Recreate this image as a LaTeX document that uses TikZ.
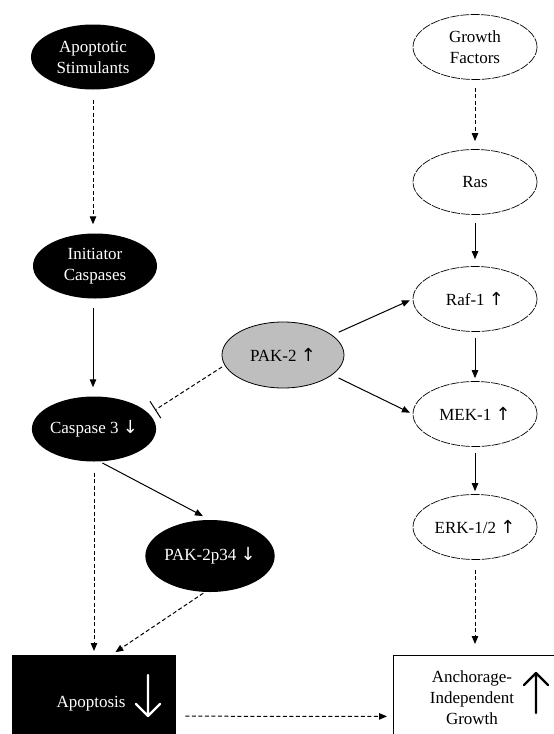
\documentclass[tikz,border=0pt]{standalone}
\usepackage{fontspec}
\setmainfont{Liberation Serif}
\newfontfamily\symf{DejaVu Sans}
\usetikzlibrary{arrows.meta,shapes.geometric,calc}
\definecolor{pakgray}{RGB}{190,190,190}
\newcommand{\upar}{{\symf\fontsize{18}{18}\selectfont ↑}}
\newcommand{\dnar}{{\symf\fontsize{18}{18}\selectfont ↓}}
\begin{document}
\begin{tikzpicture}[x=1pt,y=-1pt,
  every node/.style={font=\fontsize{17}{21}\selectfont, align=center, inner sep=0pt},
  blk/.style={ellipse, fill=black, text=white, minimum width=124pt, minimum height=65pt},
  wht/.style={ellipse, draw, line width=0.7pt, dash pattern=on 9pt off 1.2pt, minimum width=124pt, minimum height=65pt},
  gry/.style={ellipse, draw, fill=pakgray, line width=0.8pt, minimum width=122pt, minimum height=66pt},
  sol/.style={line width=1pt, -{Triangle[length=8pt,width=6.5pt]}},
  dsh/.style={sol, dash pattern=on 4pt off 2.5pt},
  bigarrow/.style={line width=2.2pt, line cap=round, line join=round},
]
\clip (0,0) rectangle (554,734);
% left column
\node[blk] (as) at (93,57) {Apoptotic\\Stimulants};
\node[blk] (ic) at (95,266) {Initiator\\Caspases};
\node[blk] (cas) at (94,429) {Caspase 3 \dnar};
\node[blk, minimum width=126pt, minimum height=72pt] (p34) at (210,556) {PAK-2p34 \dnar};
\node[gry] (pak) at (283,355) {PAK-2 \upar};
% right column
\node[wht] (gf) at (475,47) {Growth\\Factors};
\node[wht] (ras) at (475,182) {Ras};
\node[wht] (raf) at (475,299) {Raf-1 \upar};
\node[wht] (mek) at (475,414) {MEK-1 \upar};
\node[wht] (erk) at (475,527) {ERK-1/2 \upar};
% boxes
\node[rectangle, fill=black, minimum width=164pt, minimum height=100pt, anchor=north west] (apo) at (12,655) {};
\node[text=white] (apot) at (91,704) {Apoptosis};
\draw[bigarrow, white] (148,675) -- (148,716) (136,704) -- (148,716) -- (160,704);
\node[rectangle, draw, line width=0.8pt, minimum width=180pt, minimum height=100pt, anchor=north west] (anc) at (393,655) {};
\node (anct) at (472,698) {Anchorage-\\Independent\\Growth};
\draw[bigarrow, black] (536,673) -- (536,713) (524,685) -- (536,673) -- (548,685);
% connectors
\coordinate (inh) at (155,410);
\draw[dsh, -{Bar[width=20pt]}, shorten <=3pt] (pak.190) -- (inh);
\draw[dsh, shorten <=10pt, shorten >=9pt] (as.south) -- (as.south |- ic.north);
\draw[sol, shorten <=9pt, shorten >=9pt] (as.south |- ic.south) -- (as.south |- cas.north);
\draw[sol, shorten <=3pt, shorten >=8pt] (cas.-80) -- (p34.north);
\draw[dsh, shorten <=11pt, shorten >=4pt] (cas.south) -- (cas.south |- apo.north);
\draw[dsh, shorten <=2pt, shorten >=5pt] (p34.-98) -- ([xshift=17pt]apo.north);
\draw[dsh, shorten >=6pt] ([xshift=9pt,yshift=-11pt]apo.east) -- ([yshift=-11pt]anc.west);
\draw[sol, shorten <=7pt, shorten >=3pt] (pak.22) -- (raf.west);
\draw[sol, shorten <=7pt, shorten >=3pt] (pak.-22) -- (mek.west);
\draw[dsh, shorten <=8pt, shorten >=8pt] (gf.south) -- (ras.north);
\draw[sol, shorten <=8pt, shorten >=7pt] (ras.south) -- (raf.north);
\draw[sol, shorten <=6pt, shorten >=3pt] (raf.south) -- (mek.north);
\draw[sol, shorten <=6pt, shorten >=3pt] (mek.south) -- (erk.north);
\draw[dsh, shorten <=10pt, shorten >=11pt] (erk.south) -- (anc.north -| erk.south);
\end{tikzpicture}
\end{document}
